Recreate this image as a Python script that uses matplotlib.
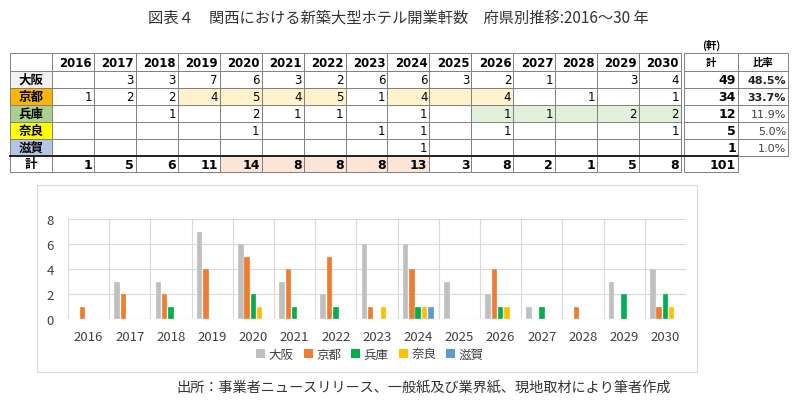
import matplotlib.pyplot as plt
from matplotlib.patches import Rectangle, Patch

plt.rcParams["font.family"] = ["Noto Sans CJK JP", "DejaVu Sans"]

# data
years = [str(y) for y in range(2016, 2031)]
prefs = ["大阪", "京都", "兵庫", "奈良", "滋賀"]
osaka = [0, 3, 3, 7, 6, 3, 2, 6, 6, 3, 2, 1, 0, 3, 4]
kyoto = [1, 2, 2, 4, 5, 4, 5, 1, 4, 0, 4, 0, 1, 0, 1]
hyogo = [0, 0, 1, 0, 2, 1, 1, 0, 1, 0, 1, 1, 0, 2, 2]
nara = [0, 0, 0, 0, 1, 0, 0, 1, 1, 0, 1, 0, 0, 0, 1]
shiga = [0, 0, 0, 0, 0, 0, 0, 0, 1, 0, 0, 0, 0, 0, 0]
series = [osaka, kyoto, hyogo, nara, shiga]

title = "図表４　関西における新築大型ホテル開業軒数　府県別推移:2016～30 年"
source = "出所：事業者ニュースリリース、一般紙及び業界紙、現地取材により筆者作成"

# styles
label_bg = ["#f2f2f2", "#ffb400", "#a9d08e", "#ffff00", "#b4c6e7"]
bar_colors = ["#bfbfbf", "#ed7d31", "#00b050", "#ffc000", "#5b9bd5"]
# highlighted cells: row index -> year indices
hl_rows = {1: ([3, 4, 5, 6, 8, 9, 10], "#fff2cc"), 2: ([10, 11, 12, 13, 14], "#e2efda")}
hl_total = ([4, 5, 6, 7, 8], "#fce4d6")
bold_ratio = [0, 1]

year_tot = [sum(col) for col in zip(*series)]
pref_tot = [sum(s) for s in series]
grand = sum(pref_tot)

fig = plt.figure(figsize=(8, 4.1), dpi=100)
bg = fig.add_axes([0, 0, 1, 1])
bg.set_xlim(0, 800)
bg.set_ylim(410, 0)
bg.axis("off")

digit_font = ["DejaVu Sans", "Noto Sans CJK JP"]
line_c = "#808080"

# table geometry (pixels)
x0, lab_w = 10, 42
yr_w = (681 - 52) / len(years)
tot_x, tot_w = 684, 54
rat_x, rat_w = 738, 50
y0, hdr_h, row_h = 54, 18, 16.9


def cell(x, y, w, h, fc="white"):
    bg.add_patch(Rectangle((x, y), w, h, facecolor=fc, edgecolor=line_c, lw=0.7))


def col_x(i):
    return x0 + lab_w + i * yr_w


# header
cell(x0, y0, lab_w, hdr_h)
for i, yr in enumerate(years):
    cell(col_x(i), y0, yr_w, hdr_h)
    bg.text(col_x(i) + yr_w - 2, y0 + hdr_h / 2 + 0.5, yr, ha="right", va="center",
            fontsize=8.5, fontweight="bold", family=digit_font)
cell(tot_x, y0, tot_w, hdr_h)
cell(rat_x, y0, rat_w, hdr_h)
bg.text(tot_x + tot_w / 2, y0 + hdr_h / 2, "計", ha="center", va="center",
        fontsize=7.5, fontweight="bold")
bg.text(rat_x + rat_w / 2, y0 + hdr_h / 2, "比率", ha="center", va="center",
        fontsize=7.5, fontweight="bold")
bg.text(711, 45, "(軒)", ha="center", va="center", fontsize=7.5, fontweight="bold")

# body rows
for r, (name, vals) in enumerate(zip(prefs, series)):
    y = y0 + hdr_h + r * row_h
    cell(x0, y, lab_w, row_h, label_bg[r])
    bg.text(x0 + lab_w / 2, y + row_h / 2, name, ha="center", va="center",
            fontsize=9, fontweight="bold")
    hl = hl_rows.get(r, ([], None))
    for i, v in enumerate(vals):
        fc = hl[1] if i in hl[0] else "white"
        cell(col_x(i), y, yr_w, row_h, fc)
        if v:
            bg.text(col_x(i) + yr_w - 2, y + row_h / 2 + 0.5, str(v), ha="right",
                    va="center", fontsize=8.5, family=digit_font)
    cell(tot_x, y, tot_w, row_h)
    bg.text(tot_x + tot_w - 2, y + row_h / 2 + 0.5, str(pref_tot[r]), ha="right",
            va="center", fontsize=9, fontweight="bold", family=digit_font)
    cell(rat_x, y, rat_w, row_h)
    bg.text(rat_x + rat_w - 2, y + row_h / 2 + 0.5, f"{pref_tot[r] / grand * 100:.1f}%",
            ha="right", va="center", fontsize=8, family=digit_font,
            fontweight="bold" if r in bold_ratio else "normal",
            color="#222222" if r in bold_ratio else "#404040")

# total row
y = y0 + hdr_h + len(prefs) * row_h
cell(x0, y, lab_w, row_h)
bg.text(x0 + lab_w / 2, y + row_h / 2, "計", ha="center", va="center",
        fontsize=9, fontweight="bold")
for i, v in enumerate(year_tot):
    fc = hl_total[1] if i in hl_total[0] else "white"
    cell(col_x(i), y, yr_w, row_h, fc)
    bg.text(col_x(i) + yr_w - 2, y + row_h / 2 + 0.5, str(v), ha="right", va="center",
            fontsize=9, fontweight="bold", family=digit_font)
cell(tot_x, y, tot_w, row_h)
bg.text(tot_x + tot_w - 2, y + row_h / 2 + 0.5, str(grand), ha="right", va="center",
        fontsize=9, fontweight="bold", family=digit_font)
# thick separator above total row
bg.plot([x0, tot_x + tot_w], [y, y], color="#222222", lw=1.4)
bg.plot([rat_x, rat_x + rat_w], [y, y], color=line_c, lw=0.7)

# title / source
bg.text(398, 18, title, ha="center", va="center", fontsize=11, color="#333333")
bg.text(424, 388, source, ha="center", va="center", fontsize=10.2, color="#333333")

# chart frame
bg.add_patch(Rectangle((37, 186), 660, 187, facecolor="white", edgecolor="#d9d9d9", lw=0.8))

ax = fig.add_axes([68 / 800, (410 - 320) / 410, 618 / 800, 100 / 410])
n = len(years)
xs = list(range(n))
bw, step = 0.135, 0.153
for k, (vals, col) in enumerate(zip(series, bar_colors)):
    ax.bar([x + (k - 2) * step for x in xs], vals, width=bw, color=col,
           edgecolor="white", linewidth=0.2, zorder=3)
ax.set_xlim(-0.5, n - 0.5)
ax.set_ylim(0, 8)
ax.set_yticks([0, 2, 4, 6, 8])
ax.set_xticks(xs)
ax.set_xticklabels(years)
ax.set_xticks([x - 0.5 for x in xs] + [n - 0.5], minor=True)
ax.grid(axis="y", color="#d9d9d9", lw=0.8, zorder=0)
ax.grid(axis="x", which="minor", color="#d9d9d9", lw=0.8, zorder=0)
ax.tick_params(which="both", length=0)
ax.tick_params(axis="x", pad=8, labelsize=9.5, colors="#404040")
ax.tick_params(axis="y", pad=10, labelsize=9.5, colors="#404040")
for s in ax.spines.values():
    s.set_visible(False)
ax.axhline(0, color="#d0d0d0", lw=0.8, zorder=2)

handles = [Patch(facecolor=c, edgecolor="none") for c in bar_colors]
fig.legend(handles, prefs, loc="center", bbox_to_anchor=(370 / 800, 1 - 355 / 410),
           ncol=5, frameon=False, fontsize=9, handlelength=0.7, handleheight=0.7,
           handletextpad=0.3, columnspacing=0.8, labelcolor="#404040")

fig.savefig("out.png", dpi=100)
